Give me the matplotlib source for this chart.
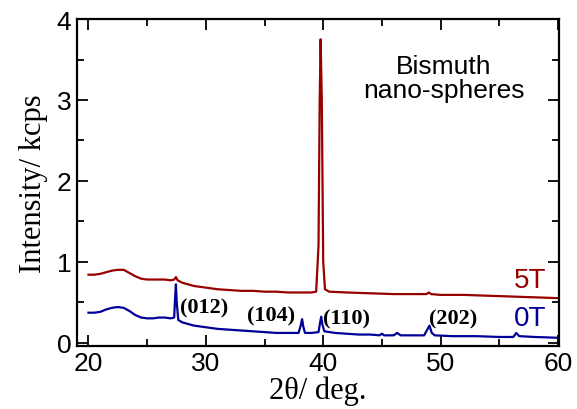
"""XRD de nano-esferas de bismuto a 0T y 5T, dibujado como out.png."""

import matplotlib

matplotlib.use("Agg")

import matplotlib.pyplot as plt
from matplotlib.ticker import MultipleLocator

# 2θ (deg) e intensidad (kcps)
two_theta_5t = [20.0, 20.5, 21.0, 21.5, 22.0, 22.5, 23.0, 23.5, 24.0, 24.5, 25.0, 25.5,
                26.0, 26.5, 27.0, 27.3, 27.45, 27.6, 28.0, 28.5, 29.0, 30.0, 31.0, 32.0,
                33.0, 34.0, 35.0, 36.0, 37.0, 38.0, 39.0, 39.4, 39.6, 39.7, 39.78, 39.88,
                40.0, 40.15, 40.5, 42.0, 44.0, 46.0, 48.0, 48.8, 49.0, 49.2, 50.0, 52.0,
                54.0, 56.0, 58.0, 60.0]
intensity_5t = [0.84, 0.84, 0.85, 0.87, 0.89, 0.90, 0.90, 0.86, 0.82, 0.79, 0.78, 0.78,
                0.78, 0.78, 0.77, 0.78, 0.81, 0.77, 0.74, 0.72, 0.70, 0.68, 0.66, 0.65,
                0.64, 0.64, 0.63, 0.63, 0.62, 0.62, 0.62, 0.63, 1.20, 3.00, 3.75, 3.00,
                1.00, 0.66, 0.63, 0.62, 0.61, 0.60, 0.60, 0.60, 0.62, 0.60, 0.59, 0.59,
                0.58, 0.57, 0.56, 0.55]

two_theta_0t = [20.0, 20.5, 21.0, 21.5, 22.0, 22.5, 23.0, 23.5, 24.0, 24.5, 25.0, 25.5,
                26.0, 26.5, 27.0, 27.3, 27.38, 27.45, 27.52, 27.65, 28.0, 28.5, 29.0, 30.0,
                31.0, 32.0, 33.0, 34.0, 35.0, 36.0, 37.0, 37.9, 38.1, 38.2, 38.3, 38.45,
                39.0, 39.6, 39.75, 39.83, 39.92, 40.1, 41.0, 42.0, 43.0, 44.0, 44.8, 45.0,
                45.2, 46.0, 46.3, 46.6, 47.5, 48.6, 48.9, 49.05, 49.25, 49.5, 51.0, 53.0,
                55.0, 56.2, 56.45, 56.7, 58.0, 60.0]
intensity_0t = [0.37, 0.37, 0.38, 0.41, 0.43, 0.44, 0.43, 0.39, 0.34, 0.31, 0.30, 0.30,
                0.31, 0.31, 0.30, 0.31, 0.55, 0.72, 0.50, 0.28, 0.25, 0.23, 0.21, 0.19,
                0.17, 0.16, 0.15, 0.14, 0.13, 0.12, 0.12, 0.12, 0.22, 0.29, 0.20, 0.12,
                0.12, 0.13, 0.26, 0.32, 0.23, 0.14, 0.12, 0.11, 0.10, 0.10, 0.09, 0.11,
                0.09, 0.09, 0.12, 0.09, 0.09, 0.09, 0.17, 0.21, 0.12, 0.09, 0.08, 0.08,
                0.07, 0.07, 0.12, 0.08, 0.07, 0.06]

# etiquetas de los picos (hkl) con su posición en datos
peak_labels = ["(012)", "(104)", "(110)", "(202)"]
peak_label_x = [27.8, 33.5, 40.0, 49.0]
peak_label_y = [0.44, 0.33, 0.30, 0.30]

RED = "#990000"
BLUE = "#000099"

fig = plt.figure(figsize=(5.77, 4.10), dpi=100)
ax = fig.add_axes([0.133, 0.154, 0.836, 0.797])

ax.plot(two_theta_5t, intensity_5t, color=RED, lw=1.6)
ax.plot(two_theta_0t, intensity_0t, color=BLUE, lw=1.6)

ax.set_xlim(19.0, 60.1)
ax.set_ylim(-0.04, 4.0)
ax.xaxis.set_major_locator(MultipleLocator(10))
ax.xaxis.set_minor_locator(MultipleLocator(5))
ax.yaxis.set_major_locator(MultipleLocator(1))
ax.yaxis.set_minor_locator(MultipleLocator(0.5))
ax.tick_params(which="both", direction="in", top=True, right=True, width=1.3,
               labelsize=19, labelfontfamily="Liberation Sans", pad=4)
ax.tick_params(which="major", length=8)
ax.tick_params(which="minor", length=5)
for spine in ax.spines.values():
    spine.set_linewidth(1.6)

ax.set_xlabel("2θ/ deg.", family="Liberation Serif", fontsize=22, labelpad=0)
ax.set_ylabel("Intensity/ kcps", family="Liberation Serif", fontsize=22, labelpad=6)

for label, x, y in zip(peak_labels, peak_label_x, peak_label_y):
    ax.text(x, y, label, family="Liberation Serif", fontweight="bold", fontsize=16,
            ha="left", va="center")

ax.text(59.0, 0.77, "5T", color=RED, family="Liberation Sans", fontsize=20,
        ha="right", va="center")
ax.text(59.0, 0.30, "0T", color=BLUE, family="Liberation Sans", fontsize=20,
        ha="right", va="center")
ax.text(50.3, 3.27, "Bismuth\nnano-spheres", family="Liberation Sans", fontsize=19,
        ha="center", va="center", linespacing=1.0)

fig.savefig("out.png", dpi=100)
plt.close(fig)
